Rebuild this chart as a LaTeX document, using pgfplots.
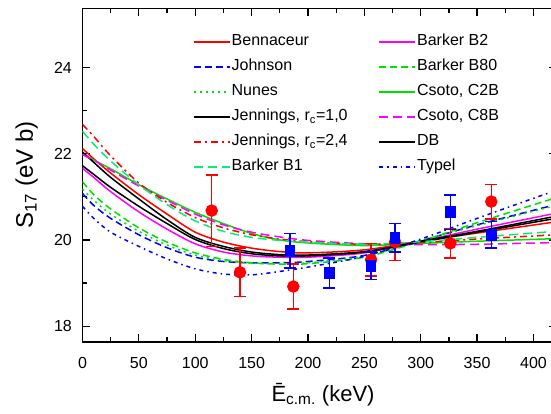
\documentclass[border=0pt]{standalone}
\usepackage{fontspec}
\setmainfont{Liberation Sans}
\usepackage{pgfplots}
\usepackage{pgfplotstable}
\pgfplotsset{compat=1.18}
\definecolor{mint}{RGB}{0,240,120}
\definecolor{lgreen}{RGB}{0,225,0}
\definecolor{mag}{RGB}{255,0,255}

\pgfplotstableread{
x   Ben   Joh   Nun   Jena  Jenb  Bone  Btwo  Beig  Ctwo  Ceig  DB    Typ
0   22.12 21.08 21.18 22.04 22.68 22.52 21.66 21.35 21.98 21.98 21.72 20.78
10  21.88 20.80 20.92 21.80 22.40 22.22 21.45 21.05 21.85 21.85 21.52 20.50
25  21.55 20.50 20.60 21.45 21.95 21.83 21.12 20.72 21.65 21.62 21.22 20.18
50  21.05 20.12 20.20 20.95 21.32 21.28 20.65 20.28 21.28 21.25 20.78 19.85
75  20.60 19.82 19.88 20.47 20.87 20.82 20.25 19.95 20.95 20.92 20.38 19.56
100 20.18 19.60 19.65 20.06 20.52 20.44 19.91 19.70 20.64 20.60 20.01 19.33
125 19.95 19.50 19.52 19.85 20.28 20.20 19.72 19.55 20.38 20.35 19.80 19.21
150 19.81 19.47 19.46 19.72 20.12 20.06 19.63 19.47 20.15 20.18 19.68 19.19
175 19.73 19.47 19.45 19.66 20.02 19.99 19.60 19.44 20.00 20.07 19.63 19.27
200 19.70 19.50 19.47 19.65 19.96 19.95 19.60 19.45 19.93 19.99 19.63 19.37
250 19.77 19.64 19.62 19.73 19.90 19.90 19.70 19.60 19.87 19.91 19.72 19.62
300 19.97 19.98 19.98 19.95 19.94 19.96 19.97 19.97 19.92 19.89 19.97 20.02
350 20.16 20.35 20.33 20.18 20.02 20.06 20.25 20.40 19.97 19.90 20.20 20.50
420 20.42 20.82 20.80 20.50 20.12 20.20 20.62 20.98 20.03 19.94 20.55 21.15
}\curves

\pgfplotstableread{
x     y     e
114.6 20.68 0.83
139.7 19.25 0.56
187.0 18.92 0.52
256.0 19.54 0.38
277.3 19.95 0.43
326.2 19.92 0.34
362.6 20.89 0.40
}\redpts

\pgfplotstableread{
x     y     e
184.1 19.75 0.40
219.0 19.23 0.35
256.0 19.40 0.32
277.3 20.05 0.33
326.2 20.64 0.40
362.6 20.12 0.31
}\bluepts

\begin{document}
\begin{tikzpicture}
\begin{axis}[name=ax, scale only axis, width=473.5pt, height=333.3pt,
  xmin=0, xmax=420, ymin=17.64, ymax=25.37,
  xtick={0,50,...,400}, minor x tick num=1,
  ytick={18,20,22,24}, minor y tick num=1,
  tick align=inside, major tick length=7.5pt, minor tick length=4.5pt,
  every tick/.style={black, line width=1.2pt},
  axis line style={line width=1.6pt},
  tick label style={font=\fontsize{16}{18}\selectfont},
  /pgf/number format/assume math mode=true,
  xticklabel style={inner sep=0pt, anchor=north, yshift=-15pt},
  yticklabel style={inner sep=0pt, anchor=east, xshift=-10.5pt},
  every axis x label/.style={at={(axis description cs:0.508,-0.18)}, anchor=base},
  every axis y label/.style={at={(axis description cs:-0.105,0.5)}, rotate=90, anchor=base},
  xlabel style={font=\fontsize{22}{24}\selectfont},
  ylabel style={font=\fontsize{24}{26}\selectfont},
  xlabel={\=E\textsubscript{c.m.} (keV)},
  ylabel={S\textsubscript{17} (eV b)},
  legend columns=2,
  legend cell align=left,
  legend image code/.code={\draw[line width=1.5pt, #1] (0pt,0pt) -- (36pt,0pt);},
  legend style={draw=none, fill=none, at={(axis description cs:0.227,0.93)}, anchor=north west,
    font=\fontsize{16}{18}\selectfont, row sep=9pt,
    nodes={inner xsep=1pt, inner ysep=0pt, text height=12pt, text depth=4pt},
    /tikz/column 2/.style={column sep=30pt}},
  every axis plot/.append style={line width=1.5pt, mark=none},
]
\addplot[color=red, smooth] table[x=x,y=Ben]{\curves}; \addlegendentry{Bennaceur}
\addplot[color=mag, smooth] table[x=x,y=Btwo]{\curves}; \addlegendentry{Barker B2}
\addplot[color=blue, smooth, dash pattern=on 7pt off 4pt] table[x=x,y=Joh]{\curves}; \addlegendentry{Johnson}
\addplot[color=lgreen, smooth, dash pattern=on 7pt off 4pt] table[x=x,y=Beig]{\curves}; \addlegendentry{Barker B80}
\addplot[color=lgreen, smooth, dash pattern=on 2pt off 4pt] table[x=x,y=Nun]{\curves}; \addlegendentry{Nunes}
\addplot[color=lgreen, smooth] table[x=x,y=Ctwo]{\curves}; \addlegendentry{Csoto, C2B}
\addplot[color=black, smooth] table[x=x,y=Jena]{\curves}; \addlegendentry{Jennings, r\textsubscript{c}=1,0}
\addplot[color=mag, smooth, dash pattern=on 9pt off 5pt] table[x=x,y=Ceig]{\curves}; \addlegendentry{Csoto, C8B}
\addplot[color=red, smooth, dash pattern=on 7pt off 4pt on 2pt off 4pt] table[x=x,y=Jenb]{\curves}; \addlegendentry{Jennings, r\textsubscript{c}=2,4}
\addplot[color=black, smooth] table[x=x,y=DB]{\curves}; \addlegendentry{DB}
\addplot[color=mint, smooth, dash pattern=on 9pt off 5pt] table[x=x,y=Bone]{\curves}; \addlegendentry{Barker B1}
\addplot[color=blue, smooth, dash pattern=on 4pt off 4pt on 1.5pt off 4pt] table[x=x,y=Typ]{\curves}; \addlegendentry{Typel}

\addplot[only marks, mark=*, red, mark size=5.5pt,
  error bars/.cd, y dir=both, y explicit,
  error bar style={red, line width=1.5pt},
  error mark options={rotate=90, red, mark size=6pt, line width=1.5pt}]
  table[x=x, y=y, y error=e]{\redpts};
\addplot[only marks, mark=square*, blue, mark size=4.5pt, mark options={yscale=1.2},
  error bars/.cd, y dir=both, y explicit,
  error bar style={blue, line width=1.5pt},
  error mark options={rotate=90, blue, mark size=6pt, line width=1.5pt, yscale=1}]
  table[x=x, y=y, y error=e]{\bluepts};
\end{axis}
\pgfresetboundingbox
\path[use as bounding box] ([xshift=-82.5pt, yshift=-71.3pt]ax.south west) rectangle ([xshift=468.5pt, yshift=341.7pt]ax.south west);
\end{tikzpicture}
\end{document}
